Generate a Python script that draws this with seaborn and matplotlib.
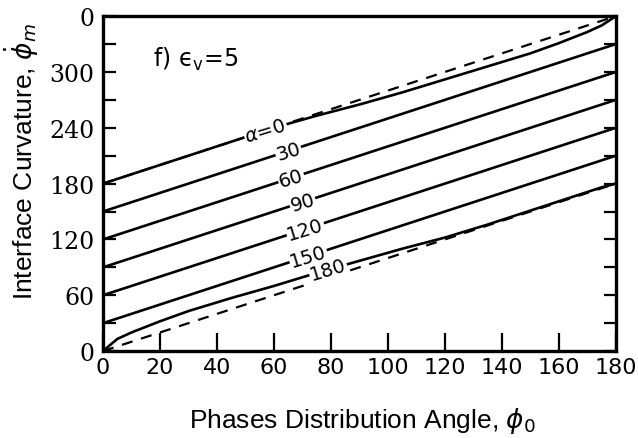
import matplotlib
matplotlib.use("Agg")
import matplotlib.pyplot as plt
import numpy as np
import pandas as pd
import seaborn as sns

# Phase distribution angle grid (degrees)
phi0 = [0, 5, 10, 20, 30, 45, 60, 75, 90, 105, 120, 135, 150, 160, 170, 175, 180]

# Interface curvature for each contact angle alpha
alpha_labels = ["0", "30", "60", "90", "120", "150", "180"]
curv_a0 = [180, 185, 190, 200, 210, 225, 240, 253, 265, 278, 292, 306, 320, 331, 343, 350, 360]
curv_a30 = [150, 155, 160, 170, 180, 195, 210, 225, 240, 255, 270, 285, 300, 310, 320, 325, 330]
curv_a60 = [120, 125, 130, 140, 150, 165, 180, 195, 210, 225, 240, 255, 270, 280, 290, 295, 300]
curv_a90 = [90, 95, 100, 110, 120, 135, 150, 165, 180, 195, 210, 225, 240, 250, 260, 265, 270]
curv_a120 = [60, 65, 70, 80, 90, 105, 120, 135, 150, 165, 180, 195, 210, 220, 230, 235, 240]
curv_a150 = [30, 35, 40, 50, 60, 75, 90, 105, 120, 135, 150, 165, 180, 190, 200, 205, 210]
curv_a180 = [0, 13, 20, 32, 43, 57, 70, 84, 97, 110, 122, 136, 151, 161, 171, 176, 180]

# Limiting (dashed) lines
limit_x = [0, 180]
limit_upper = [180, 360]
limit_lower = [0, 180]

# Inline label positions along each curve (phi0 value)
label_phi0 = [57, 65, 66, 70, 71, 72, 79]

x_ticks = [0, 20, 40, 60, 80, 100, 120, 140, 160, 180]
y_ticks = [0, 60, 120, 180, 240, 300, 360]
y_tick_labels = ["0", "60", "120", "180", "240", "300", "0"]

curves = [curv_a0, curv_a30, curv_a60, curv_a90, curv_a120, curv_a150, curv_a180]

sns.set_theme(style="white")
plt.rcParams["font.family"] = ["DejaVu Sans"]
plt.rcParams["text.color"] = "black"
plt.rcParams["axes.labelcolor"] = "black"
plt.rcParams["xtick.color"] = "black"
plt.rcParams["ytick.color"] = "black"

fig = plt.figure(figsize=(6.38, 4.39), dpi=100)
ax = fig.add_axes([0.1614, 0.198, 0.804, 0.763])

df = pd.DataFrame({
    "phi0": np.tile(phi0, len(curves)),
    "curv": np.concatenate(curves),
    "alpha": np.repeat(alpha_labels, len(phi0)),
})
sns.lineplot(data=df, x="phi0", y="curv", units="alpha", estimator=None,
             color="black", lw=1.9, ax=ax, legend=False, zorder=3)

for ys in (limit_upper, limit_lower):
    sns.lineplot(x=limit_x, y=ys, color="black", lw=1.6, ax=ax,
                 linestyle=(0, (5, 4)), zorder=2)

# inline curve labels
for i, (lab, xp) in enumerate(zip(alpha_labels, label_phi0)):
    yp = np.interp(xp, phi0, curves[i])
    txt = ("$\\alpha$=" + lab) if i == 0 else lab
    ax.text(xp, yp, txt, fontsize=14, rotation=17, ha="center", va="center",
            rotation_mode="anchor", zorder=5, color="black",
            bbox=dict(boxstyle="square,pad=0.05", fc="white", ec="none"))

ax.text(0.097, 0.875, "f) \u03f5$_{\\mathrm{v}}$=5", transform=ax.transAxes,
        fontsize=17, ha="left", va="center", color="black")

ax.set_xlim(0, 180)
ax.set_ylim(0, 360)
ax.set_xticks(x_ticks)
ax.set_xticklabels([str(t) for t in x_ticks], fontsize=16)
ax.set_yticks(y_ticks)
ax.set_yticklabels(y_tick_labels, fontsize=17, family="DejaVu Serif")
ax.set_yticks([30, 90, 150, 210, 270, 330], minor=True)

ax.tick_params(axis="y", which="both", direction="in", length=9, width=1.6,
               left=True, right=True, pad=6, colors="black")
ax.tick_params(axis="x", which="both", direction="in", length=13, width=1.6,
               bottom=True, top=False, pad=4, colors="black")

for s in ax.spines.values():
    s.set_color("black")
    s.set_linewidth(2.4)

ax.set_xlabel(r"Phases Distribution Angle, $\phi_0$", fontsize=19,
              family="Liberation Sans", va="center", color="black")
ax.set_ylabel(r"Interface Curvature, $\dot{\phi}_m$", fontsize=19,
              family="Liberation Sans", va="center", color="black")
ax.xaxis.set_label_coords(0.505, -0.206)
ax.yaxis.set_label_coords(-0.158, 0.57)

fig.savefig("out.png", dpi=100)
